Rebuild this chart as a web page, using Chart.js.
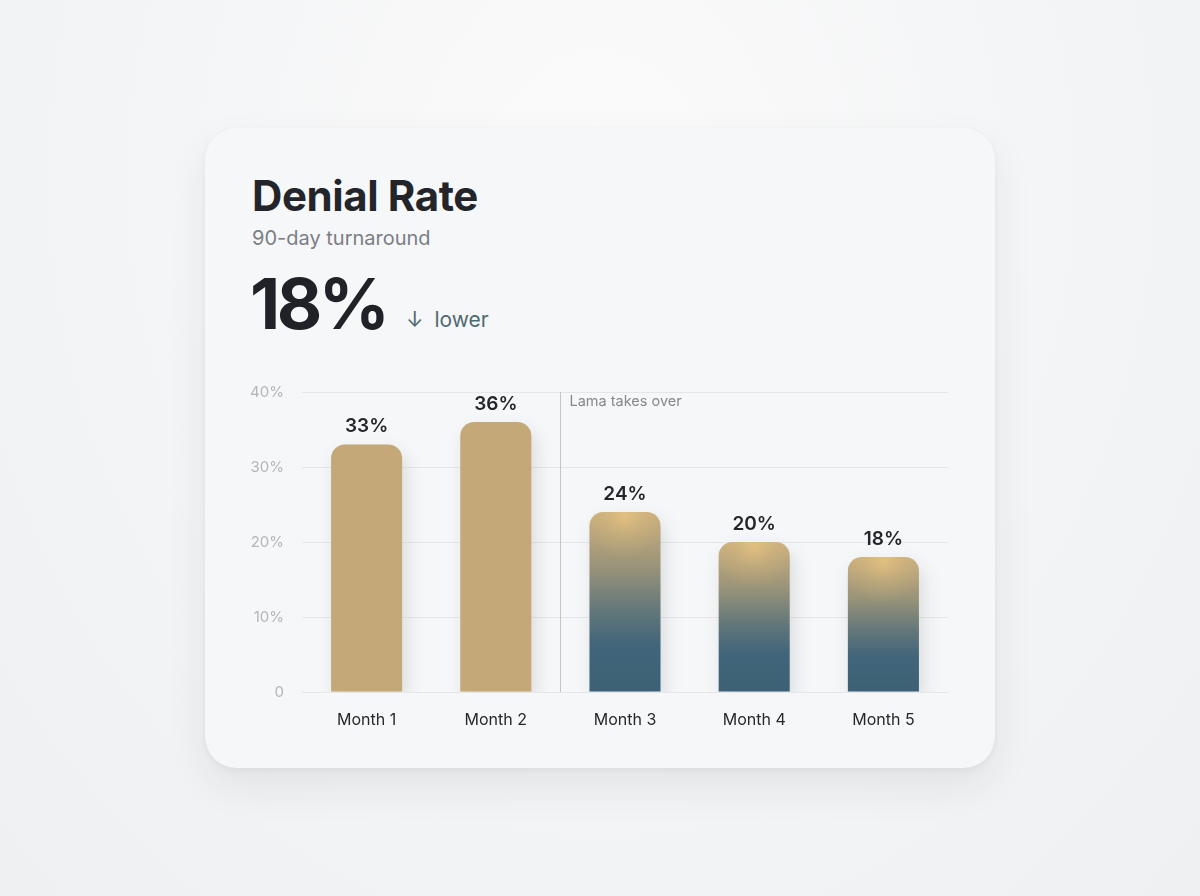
<!DOCTYPE html>
<html>
<head>
<meta charset="utf-8">
<script src="https://cdn.jsdelivr.net/npm/chart.js@4/dist/chart.umd.min.js"></script>
<style>
  html, body { margin:0; padding:0; }
  body {
    width:1200px; height:896px; overflow:hidden;
    background: radial-gradient(ellipse at 50% 20%, #fbfbfc 0%, #f3f4f5 60%, #eff0f1 100%);
    font-family: Inter, "Noto Sans", sans-serif;
    position:relative;
  }
  .card {
    position:absolute; left:205px; top:128px; width:790px; height:640px;
    background:#f6f7f8; border-radius:32px;
    box-shadow: 0 18px 40px rgba(30,35,45,0.08), 0 2px 6px rgba(30,35,45,0.05);
  }
  .title { position:absolute; left:252px; top:172px; font-size:42px; font-weight:700; color:#23252b; letter-spacing:-0.4px; line-height:48px; }
  .sub { position:absolute; left:252px; top:225px; font-size:20px; color:#7b7e84; line-height:26px; }
  .kpi { position:absolute; left:250px; top:262px; font-size:70px; font-weight:700; color:#202228; letter-spacing:-3.5px; line-height:84px; }
  .delta { position:absolute; left:406px; top:306px; font-size:21px; color:#4f6a70; line-height:28px; }
  .delta .arr { display:inline-block; margin-right:11px; }
  .wrap { position:absolute; left:240px; top:365px; width:708px; height:385px; }
  canvas { display:block; }
</style>
</head>
<body>
<div class="card"></div>
<div class="title">Denial Rate</div>
<div class="sub">90-day turnaround</div>
<div class="kpi">18%</div>
<div class="delta"><span class="arr">↓</span>lower</div>
<div class="wrap"><canvas id="c" width="708" height="385"></canvas></div>
<script>
const categories = ["Month 1", "Month 2", "Month 3", "Month 4", "Month 5"];
const denialRate = [33, 36, 24, 20, 18];
const yTicks = [0, 10, 20, 30, 40];
const dividerAfterIndex = 1;
const dividerLabel = "Lama takes over";

const GOLD = "#c5a878";

function barFill(ctx) {
  const chart = ctx.chart;
  const i = ctx.dataIndex;
  if (i <= dividerAfterIndex) return GOLD;
  const ys = chart.scales.y;
  if (!chart.chartArea || !ys) return "#3f6577";
  const top = ys.getPixelForValue(denialRate[i]);
  const bot = ys.getPixelForValue(0);
  const g = chart.ctx.createLinearGradient(0, top, 0, bot);
  g.addColorStop(0, "#cbb07e");
  g.addColorStop(0.3, "#9a9479");
  g.addColorStop(0.55, "#62777a");
  g.addColorStop(0.74, "#41657a");
  g.addColorStop(1, "#3c6174");
  return g;
}

const shadowPlugin = {
  id: "shadow",
  beforeDatasetDraw(chart) {
    const c = chart.ctx; c.save();
    c.shadowColor = "rgba(20,30,40,0.13)";
    c.shadowBlur = 18; c.shadowOffsetX = 4; c.shadowOffsetY = 8;
  },
  afterDatasetDraw(chart) { chart.ctx.restore(); }
};

const glowPlugin = {
  id: "glow",
  afterDatasetsDraw(chart) {
    const c = chart.ctx;
    const meta = chart.getDatasetMeta(0);
    meta.data.forEach((bar, i) => {
      if (i <= dividerAfterIndex) return;
      const w = bar.width, x0 = bar.x - w / 2, y0 = bar.y, h = bar.base - bar.y;
      c.save();
      c.beginPath();
      c.roundRect(x0, y0, w, h, [14, 14, 0, 0]);
      c.clip();
      const g = c.createRadialGradient(bar.x, y0 + 4, 0, bar.x, y0 + 4, w * 0.6);
      g.addColorStop(0, "rgba(238,200,130,0.7)");
      g.addColorStop(0.5, "rgba(225,190,125,0.28)");
      g.addColorStop(1, "rgba(220,185,120,0)");
      c.fillStyle = g;
      c.fillRect(x0, y0, w, h);
      c.restore();
    });
  }
};

const labelPlugin = {
  id: "vals",
  afterDatasetsDraw(chart) {
    const c = chart.ctx;
    const meta = chart.getDatasetMeta(0);
    c.save();
    c.font = "600 19px Inter, sans-serif";
    c.fillStyle = "#24262b";
    c.textAlign = "center";
    c.textBaseline = "middle";
    meta.data.forEach((bar, i) => {
      c.fillText(denialRate[i] + "%", bar.x, bar.y - 18);
    });
    c.restore();
  }
};

const dividerPlugin = {
  id: "divider",
  beforeDatasetsDraw(chart) {
    const xs = chart.scales.x, area = chart.chartArea, c = chart.ctx;
    const x = Math.round((xs.getPixelForValue(dividerAfterIndex) + xs.getPixelForValue(dividerAfterIndex + 1)) / 2) + 0.5;
    c.save();
    c.strokeStyle = "#c3c5c9";
    c.lineWidth = 1;
    c.beginPath();
    c.moveTo(x, area.top);
    c.lineTo(x, area.bottom);
    c.stroke();
    c.font = "14.5px Inter, sans-serif";
    c.fillStyle = "#85888d";
    c.textAlign = "left";
    c.textBaseline = "middle";
    c.fillText(dividerLabel, x + 9, area.top + 10);
    c.restore();
  }
};

new Chart(document.getElementById("c"), {
  type: "bar",
  data: {
    labels: categories,
    datasets: [{
      data: denialRate,
      backgroundColor: barFill,
      borderRadius: { topLeft: 14, topRight: 14, bottomLeft: 0, bottomRight: 0 },
      borderSkipped: "start",
      barPercentage: 0.55,
      categoryPercentage: 1
    }]
  },
  options: {
    responsive: false,
    animation: false,
    devicePixelRatio: 1,
    layout: { padding: { top: 18, right: 0, left: 0, bottom: 0 } },
    plugins: { legend: { display: false }, tooltip: { enabled: false } },
    scales: {
      x: {
        grid: { display: false, drawTicks: false },
        border: { display: false },
        ticks: { color: "#26282d", font: { family: "Inter", size: 16 }, padding: 19 },
        afterFit(s) { s.height = 58; }
      },
      y: {
        min: 0, max: 40,
        afterBuildTicks(s) { s.ticks = yTicks.map(v => ({ value: v })); },
        grid: { color: "#e5e6e8", lineWidth: 1, drawTicks: false },
        border: { display: false },
        ticks: {
          color: "#b3b5b9", font: { family: "Inter", size: 15 }, padding: 18,
          callback: v => v === 0 ? "0" : v + "%"
        },
        afterFit(s) { s.width = 62; }
      }
    }
  },
  plugins: [dividerPlugin, shadowPlugin, glowPlugin, labelPlugin]
});
</script>
</body>
</html>
